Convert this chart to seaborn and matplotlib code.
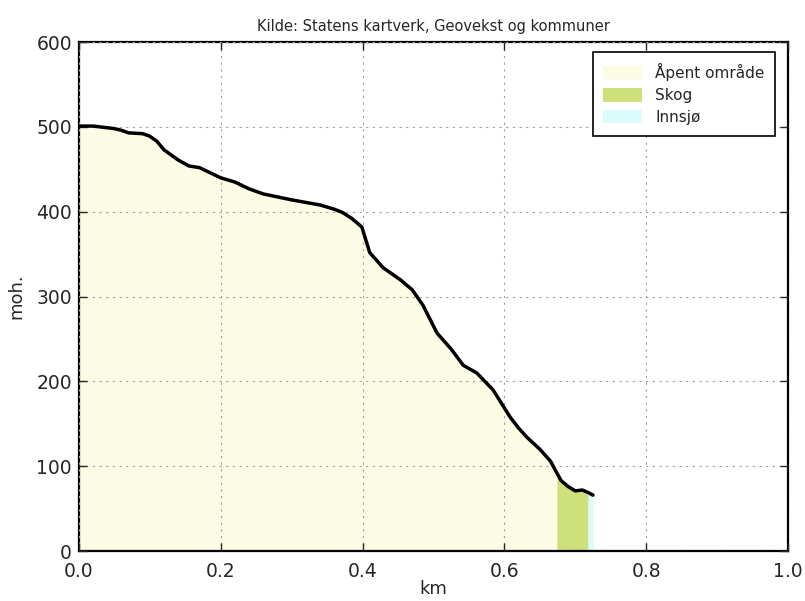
import numpy as np
import pandas as pd
import matplotlib
matplotlib.use("Agg")
import matplotlib.pyplot as plt
import seaborn as sns
from matplotlib.patches import Patch

# elevation profile (km, metres above sea level)
dist_km = [0.0, 0.02, 0.04, 0.05, 0.06, 0.07, 0.09, 0.10, 0.11, 0.12, 0.14, 0.155,
           0.17, 0.20, 0.22, 0.24, 0.26, 0.30, 0.34, 0.36, 0.372, 0.385, 0.399,
           0.41, 0.429, 0.453, 0.47, 0.485, 0.505, 0.525, 0.542, 0.561, 0.584,
           0.608, 0.62, 0.632, 0.65, 0.665, 0.674, 0.68, 0.69, 0.70, 0.71, 0.718, 0.725]
height_m = [501, 501, 499, 498, 496, 493, 492, 489, 483, 473, 461, 454,
            452, 440, 435, 427, 421, 414, 408, 403, 399, 392, 382,
            352, 334, 320, 308, 290, 257, 238, 219, 210, 190,
            158, 145, 134, 120, 106, 92, 83, 76, 71, 72, 69, 66]

# land cover segments along the profile
cover_names = ["Åpent område", "Skog", "Innsjø"]
cover_start = [0.0, 0.674, 0.718]
cover_end = [0.674, 0.718, 0.725]
cover_colors = ["#fcfce4", "#cde07c", "#dcfbfb"]

df = pd.DataFrame({"km": dist_km, "moh": height_m})

sns.set_style("white")
plt.rcParams["font.family"] = ["DejaVu Sans"]

fig = plt.figure(figsize=(8.05, 6.01), dpi=100)
ax = fig.add_axes([0.098, 0.083, 0.881, 0.847])

x = np.array(dist_km)
y = np.array(height_m)
for name, s, e, c in zip(cover_names, cover_start, cover_end, cover_colors):
    xs = np.concatenate([[s], x[(x > s) & (x < e)], [e]])
    ys = np.interp(xs, x, y)
    ax.fill_between(xs, 0, ys, color=c, linewidth=0, zorder=1)

sns.lineplot(data=df, x="km", y="moh", color="black", linewidth=2.5, ax=ax, zorder=3)

ax.set_xlim(0, 1.0)
ax.set_ylim(0, 600)
ax.set_xticks([0.0, 0.2, 0.4, 0.6, 0.8, 1.0])
ax.set_yticks([0, 100, 200, 300, 400, 500, 600])
ax.set_xticklabels(["0.0", "0.2", "0.4", "0.6", "0.8", "1.0"])
ax.tick_params(direction="in", length=6, width=1, labelsize=13.5,
               top=True, right=True, bottom=True, left=True)
ax.tick_params(axis="x", pad=8)
ax.tick_params(axis="y", pad=5)
ax.grid(True, color="#a0a0a0", linestyle=(0, (2, 4)), linewidth=0.8, zorder=0)
ax.set_axisbelow(False)
for sp in ax.spines.values():
    sp.set_color("black")
    sp.set_linewidth(1.6)

ax.set_xlabel("km", fontsize=13, labelpad=-1)
ax.set_ylabel("moh.", fontsize=13, labelpad=8)
ax.set_title("Kilde: Statens kartverk, Geovekst og kommuner", fontsize=10.5, pad=8)

handles = [Patch(facecolor=c, edgecolor="none", label=n)
           for n, c in zip(cover_names, cover_colors)]
leg = ax.legend(handles=handles, loc="upper right", fontsize=11, fancybox=False,
                frameon=True, edgecolor="black", framealpha=1,
                handlelength=2.5, handleheight=1.0, borderpad=0.7,
                labelspacing=0.45, handletextpad=0.9,
                bbox_to_anchor=(0.993, 0.995))
leg.get_frame().set_linewidth(1.2)

fig.savefig("out.png", dpi=100)
